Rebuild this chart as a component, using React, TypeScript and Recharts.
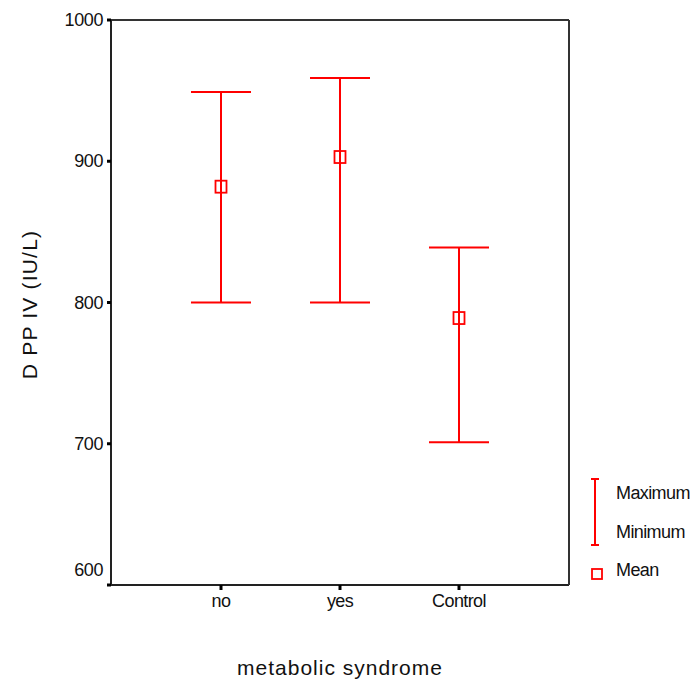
import {
  ComposedChart,
  ErrorBar,
  Scatter,
  XAxis,
  YAxis,
} from "recharts";

const groups = ["no", "yes", "Control"];
const means = [882, 903, 789];
const maxima = [949, 959, 839];
const minima = [800, 800, 701];
const yTicks = [600, 700, 800, 900, 1000];

const RED = "#ff0000";
const INK = "#111111";
const FONT = "'Liberation Sans', Arial, sans-serif";

const data = groups.map((group, i) => ({
  group,
  mean: means[i],
  range: [means[i] - minima[i], maxima[i] - means[i]],
}));

function MeanBox(props: any) {
  const { cx, cy } = props;
  if (cx == null || cy == null) return null;
  return (
    <rect x={cx - 5.5} y={cy - 6} width={11} height={12} fill="none" stroke={RED} strokeWidth={1.8} />
  );
}

function YTick(props: any) {
  const { x, y, payload } = props;
  // the lowest label sits above the axis corner, as in the source
  const shift = payload.value === 600 ? -15 : 0;
  return (
    <text x={x} y={y + shift} dy={6} textAnchor="end" fontSize={18} fill={INK} fontFamily={FONT} letterSpacing={-0.4}>
      {payload.value}
    </text>
  );
}

function YTitle(props: any) {
  const { viewBox } = props;
  const cx = viewBox.x + 29;
  const cy = viewBox.y + viewBox.height / 2 + 2;
  return (
    <text
      x={cx}
      y={cy}
      transform={`rotate(-90 ${cx} ${cy})`}
      textAnchor="middle"
      dominantBaseline="central"
      fontSize={21}
      letterSpacing={1.2}
      fill={INK}
      fontFamily={FONT}
    >
      D PP IV (IU/L)
    </text>
  );
}

function LegendBox() {
  return (
    <svg width={110} height={130} style={{ position: "absolute", left: 585, top: 465 }}>
      <g stroke={RED} strokeWidth={2}>
        <line x1={10} y1={14} x2={10} y2={80} />
        <line x1={6} y1={14} x2={14} y2={14} />
        <line x1={6} y1={80} x2={14} y2={80} />
      </g>
      <rect x={7} y={104} width={10} height={10} fill="none" stroke={RED} strokeWidth={1.8} />
      <g fontSize={18} fill={INK} fontFamily={FONT} letterSpacing={-0.6}>
        <text x={31} y={34}>Maximum</text>
        <text x={31} y={73}>Minimum</text>
        <text x={31} y={111}>Mean</text>
      </g>
    </svg>
  );
}

export default function App() {
  return (
    <div style={{ position: "absolute", left: 0, top: 0, width: 695, height: 679, background: "#fff" }}>
      <ComposedChart width={695} height={679} data={data} margin={{ top: 19, right: 125, bottom: 0, left: 0 }}>
        <XAxis
          dataKey="group"
          type="category"
          height={94}
          padding={{ left: 110, right: 110 }}
          axisLine={{ stroke: "#222", strokeWidth: 2 }}
          tickLine={{ stroke: "#000", strokeWidth: 3 }}
          tickSize={5}
          tickMargin={4}
          tick={{ fill: INK, fontSize: 18, fontFamily: FONT, letterSpacing: -0.6 }}
          label={{
            value: "metabolic syndrome",
            position: "insideBottom",
            offset: 4,
            fontSize: 21,
            letterSpacing: 1,
            fill: INK,
            fontFamily: FONT,
          }}
        />
        <XAxis
          xAxisId="top"
          dataKey="group"
          type="category"
          orientation="top"
          height={1}
          tick={false}
          tickLine={false}
          axisLine={{ stroke: "#333", strokeWidth: 2 }}
        />
        <YAxis
          type="number"
          dataKey="mean"
          domain={[600, 1000]}
          ticks={yTicks}
          width={111}
          axisLine={{ stroke: "#222", strokeWidth: 2 }}
          tickLine={{ stroke: "#000", strokeWidth: 3 }}
          tickSize={4}
          tickMargin={4}
          tick={<YTick />}
          label={<YTitle />}
        />
        <YAxis
          yAxisId="right"
          type="number"
          orientation="right"
          domain={[600, 1000]}
          width={1}
          tick={false}
          tickLine={false}
          axisLine={{ stroke: "#333", strokeWidth: 2 }}
        />
        <Scatter dataKey="mean" fill="none" shape={<MeanBox />} isAnimationActive={false}>
          <ErrorBar dataKey="range" direction="y" width={30} stroke={RED} strokeWidth={2} isAnimationActive={false} />
        </Scatter>
      </ComposedChart>
      <LegendBox />
    </div>
  );
}
